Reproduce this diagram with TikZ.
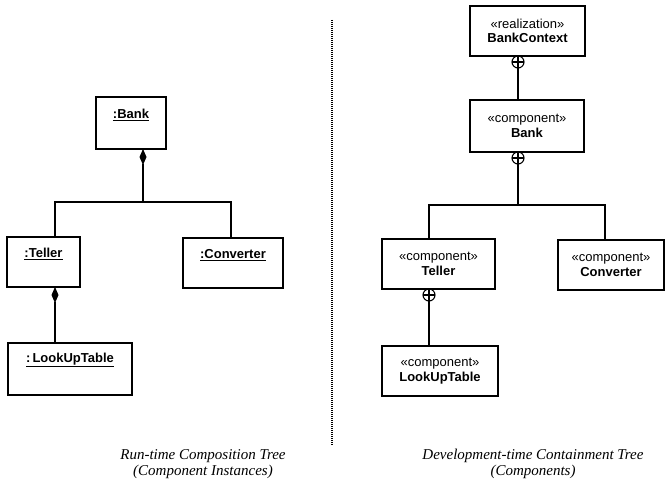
\documentclass[tikz,border=0pt]{standalone}
\usepackage{fontspec}
\setmainfont{Liberation Serif}
\setsansfont{Liberation Sans}
\usetikzlibrary{arrows.meta}
\begin{document}
\begin{tikzpicture}[x=1pt,y=-1pt,
  every node/.style={inner sep=0pt, outer sep=0pt},
  umlbox/.style={draw, line width=1.2pt, rectangle, anchor=north west},
  objname/.style={font=\sffamily\bfseries\fontsize{13}{15}\selectfont},
  comptext/.style={font=\sffamily\fontsize{13}{14.5}\selectfont, align=center},
  link/.style={line width=1.2pt},
  compo/.style={link, {Diamond[length=16pt,width=7pt]}-},
  nest/.style={circle, draw, line width=1.1pt, minimum size=12pt,
    path picture={\draw[line width=1.1pt]
      (path picture bounding box.north) -- (path picture bounding box.south)
      (path picture bounding box.west) -- (path picture bounding box.east);}},
  caption/.style={font=\itshape\fontsize{15}{15.5}\selectfont, align=center},
  divider/.style={line width=1.3pt, dash pattern=on 1pt off 1pt}
]
\useasboundingbox (0,0) rectangle (666,487);

% ---- run-time composition tree (instances) ----
\node[umlbox, minimum width=70pt, minimum height=52pt] (bank) at (96,97) {};
\node[objname] (bank-n) at ([yshift=-18pt]bank.north) {\underline{:Bank}};

\node[umlbox, minimum width=73pt, minimum height=50pt] (teller) at (7,237) {};
\node[objname] (teller-n) at ([yshift=-17pt]teller.north) {\underline{:Teller}};

\node[umlbox, minimum width=100pt, minimum height=50pt] (conv) at (183,238) {};
\node[objname] (conv-n) at ([yshift=-17pt]conv.north) {\underline{:Converter}};

\node[umlbox, minimum width=124pt, minimum height=52pt] (lut) at (8,343) {};
\node[objname] (lut-n) at ([yshift=-17pt]lut.north) {\underline{:\,LookUpTable}};

\coordinate (lj) at (143,202);
\draw[compo] ([xshift=12pt]bank.south) -- (lj);
\draw[link] (lj) -| ([xshift=11.5pt]teller.north);
\draw[link] (lj) -| ([xshift=-2pt]conv.north);
\draw[compo] ([xshift=11.5pt]teller.south) -- ([xshift=-15pt]lut.north);

% ---- separator ----
\coordinate (dtop) at (332,20);
\coordinate (dbot) at (332,445);
\draw[divider] (dtop) -- (dbot);

% ---- development-time containment tree (components) ----
\node[umlbox, comptext, minimum width=115pt, minimum height=50pt] (bctx) at (470,6)
  {«realization»\\\textbf{BankContext}};
\node[umlbox, comptext, minimum width=114pt, minimum height=52pt] (bank2) at (470,100)
  {«component»\\\textbf{Bank}};
\node[umlbox, comptext, minimum width=113pt, minimum height=50pt] (teller2) at (382,239)
  {«component»\\\textbf{Teller}};
\node[umlbox, comptext, minimum width=106pt, minimum height=50pt] (conv2) at (558,240)
  {«component»\\\textbf{Converter}};
\node[umlbox, comptext, minimum width=116pt, minimum height=50pt] (lut2) at (382,346)
  {«component»\\\textbf{LookUpTable}};

\node[nest, anchor=north] (n1) at ([xshift=-9.5pt]bctx.south) {};
\draw[link] (n1.south) -- (n1.south |- bank2.north);

\node[nest, anchor=north] (n2) at ([xshift=-9pt]bank2.south) {};
\coordinate (rj) at (518,205);
\draw[link] (n2.south) -- (rj);
\draw[link] (rj) -| ([xshift=-9.5pt]teller2.north);
\draw[link] (rj) -| ([xshift=-6pt]conv2.north);

\node[nest, anchor=north] (n3) at ([xshift=-9.5pt]teller2.south) {};
\draw[link] (n3.south) -- (n3.south |- lut2.north);

% ---- captions ----
\node[caption] (cap1) at (203,464) {Run-time Composition Tree\\(Component Instances)};
\node[caption] (cap2) at (533,464) {Development-time Containment Tree\\(Components)};
\end{tikzpicture}
\end{document}
